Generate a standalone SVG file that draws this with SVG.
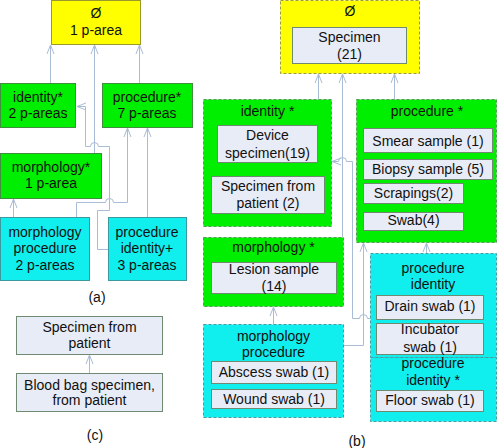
<svg xmlns="http://www.w3.org/2000/svg" width="497" height="448" viewBox="0 0 497 448">
<defs>
<marker id="arr" markerUnits="userSpaceOnUse" markerWidth="12" markerHeight="10" viewBox="-10 -5 12 10" refX="0" refY="0" orient="auto">
<path d="M-9,-3.5 L0,0 L-9,3.5" fill="none" stroke="#a9bcd6" stroke-width="1"/>
</marker>
</defs>
<style>
text{font-family:"Liberation Sans",Arial,sans-serif;font-size:14px;fill:#111;text-anchor:middle}
.yel{fill:#ffff00;stroke:#9a9a2a;stroke-width:1}
.grn{fill:#00ee00;stroke:#3f8f3f;stroke-width:1}
.cyn{fill:#11eeee;stroke:#3a9aa0;stroke-width:1}
.yeld{fill:#ffff00;stroke:#9a9a40;stroke-width:1;stroke-dasharray:3 2}
.grnd{fill:#00ee00;stroke:#5a9a5a;stroke-width:1;stroke-dasharray:3 2}
.cynd{fill:#11eeee;stroke:#4a9aa0;stroke-width:1;stroke-dasharray:3 2}
.cls{fill:#e8ecf6;stroke:#6f8a70;stroke-width:1}
.conn path{fill:none;stroke:#a9bcd6;stroke-width:1;marker-end:url(#arr)}
</style>

<!-- (a) -->
<g id="a-empty"><rect class="yel" x="51.5" y="0.5" width="89" height="44"/><text x="96" y="18">Ø</text><text x="96" y="35">1 p-area</text></g>
<g id="a-identity"><rect class="grn" x="0.5" y="83.5" width="75" height="44"/><text x="38" y="102">identity*</text><text x="38" y="118">2 p-areas</text></g>
<g id="a-procedure"><rect class="grn" x="102.5" y="83.5" width="90" height="44"/><text x="147" y="102">procedure*</text><text x="147" y="118">7 p-areas</text></g>
<g id="a-morphology"><rect class="grn" x="0.5" y="153.5" width="101" height="45"/><text x="51" y="172">morphology*</text><text x="51" y="188">1 p-area</text></g>
<g id="a-morphproc"><rect class="cyn" x="0.5" y="217.5" width="89" height="63"/><text x="45" y="237">morphology</text><text x="45" y="253">procedure</text><text x="45" y="270">2 p-areas</text></g>
<g id="a-procid"><rect class="cyn" x="108.5" y="217.5" width="78" height="63"/><text x="147" y="237">procedure</text><text x="147" y="253">identity+</text><text x="147" y="270">3 p-areas</text></g>
<text x="97" y="302">(a)</text>

<!-- (c) -->
<g id="c-spec"><rect class="cls" x="16.5" y="316.5" width="146" height="38"/><text x="89.5" y="332">Specimen from</text><text x="89.5" y="348">patient</text></g>
<g id="c-blood"><rect class="cls" x="16.5" y="373.5" width="146" height="38"/><text x="89.5" y="390">Blood bag specimen,</text><text x="89.5" y="405">from patient</text></g>
<text x="95" y="440">(c)</text>

<!-- (b) -->
<g id="b-empty"><rect class="yeld" x="280.5" y="0.5" width="139" height="73"/><text x="350" y="16">Ø</text>
<g id="b-specimen"><rect class="cls" x="292.5" y="27.5" width="114" height="36"/><text x="349.5" y="42">Specimen</text><text x="349.5" y="59">(21)</text></g></g>
<g id="b-identity"><rect class="grnd" x="203.5" y="99.5" width="128" height="127"/><text x="267.5" y="116">identity *</text>
<g id="b-device"><rect class="cls" x="217.5" y="125.5" width="100" height="37"/><text x="267.5" y="140">Device</text><text x="267.5" y="158">specimen(19)</text></g>
<g id="b-specpat"><rect class="cls" x="211.5" y="176.5" width="113" height="37"/><text x="268" y="191">Specimen from</text><text x="268" y="208">patient (2)</text></g></g>
<g id="b-procedure"><rect class="grnd" x="356.5" y="99.5" width="140" height="143"/><text x="427" y="116">procedure *</text>
<g id="b-smear"><rect class="cls" x="363.5" y="128.5" width="129" height="24"/><text x="428" y="146">Smear sample (1)</text></g>
<g id="b-biopsy"><rect class="cls" x="363.5" y="159.5" width="129" height="20"/><text x="428" y="174">Biopsy sample (5)</text></g>
<g id="b-scrapings"><rect class="cls" x="363.5" y="183.5" width="100" height="20"/><text x="413.5" y="198">Scrapings(2)</text></g>
<g id="b-swab"><rect class="cls" x="363.5" y="212.5" width="100" height="18"/><text x="413.5" y="225">Swab(4)</text></g></g>
<g id="b-morphology"><rect class="grnd" x="203.5" y="237.5" width="140" height="69"/><text x="273.5" y="252">morphology *</text>
<g id="b-lesion"><rect class="cls" x="211.5" y="262.5" width="125" height="31"/><text x="274" y="274">Lesion sample</text><text x="274" y="291">(14)</text></g></g>
<g id="b-procid"><rect class="cynd" x="370.5" y="253.5" width="126" height="104"/><text x="433" y="273">procedure</text><text x="433" y="289">identity</text>
<g id="b-drain"><rect class="cls" x="376.5" y="295.5" width="107" height="24"/><text x="430" y="311">Drain swab (1)</text></g>
<g id="b-incubator"><rect class="cls" x="376.5" y="323.5" width="107" height="31"/><text x="430" y="334">Incubator</text><text x="430" y="352">swab (1)</text></g></g>
<g id="b-procidstar"><rect class="cynd" x="370.5" y="357.5" width="126" height="64"/><text x="433" y="368">procedure</text><text x="433" y="385">identity *</text>
<g id="b-floor"><rect class="cls" x="376.5" y="390.5" width="107" height="21"/><text x="430" y="405">Floor swab (1)</text></g></g>
<g id="b-morphproc"><rect class="cynd" x="203.5" y="324.5" width="140" height="93"/><text x="273.5" y="341">morphology</text><text x="273.5" y="357">procedure</text>
<g id="b-abscess"><rect class="cls" x="211.5" y="361.5" width="125" height="22"/><text x="274" y="377">Abscess swab (1)</text></g>
<g id="b-wound"><rect class="cls" x="211.5" y="389.5" width="125" height="19"/><text x="274" y="404">Wound swab (1)</text></g></g>
<text x="357" y="446">(b)</text>

<g id="connectors" class="conn">
<path d="M50.5,83 V45"/>
<path d="M139.5,83 V45"/>
<path d="M94.5,153 V45"/>
<path d="M13.5,217 V199"/>
<path d="M76.5,217 V202.5 H105.5 a4,4 0 0 1 8,0 H127.5 V128"/>
<path d="M147.5,217 V128"/>
<path d="M108,249.5 H97.5 V210.5 H109.5 V146.5 H98.5 a4,4 0 0 0 -8,0 H85.5 V106.5 H77"/>
<path d="M89.5,373 V355"/>
<path d="M318.5,99 V74"/>
<path d="M394.5,99 V74"/>
<path d="M342.5,237 V74"/>
<path d="M273.5,324 V307"/>
<path d="M426.5,253 V243"/>
<path d="M344,345.5 H363.5 V243"/>
<path d="M370,318.5 H367.5 a4,4 0 0 0 -8,0 H352.5 V161.5 H346.5 a4,4 0 0 0 -8,0 H332"/>
</g>
</svg>
